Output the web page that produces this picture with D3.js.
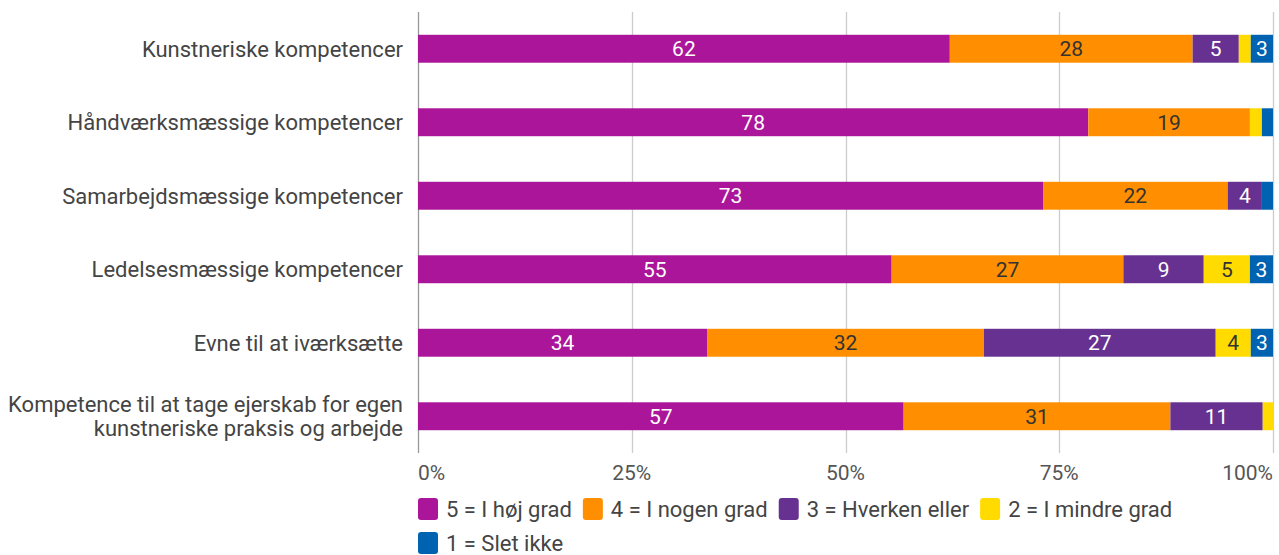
<!DOCTYPE html>
<html>
<head>
<meta charset="utf-8">
<script src="https://cdn.jsdelivr.net/npm/d3@7"></script>
<style>
  body { margin: 0; background: #fff; }
  svg { font-family: Roboto, "Noto Sans", sans-serif; }
</style>
</head>
<body>
<svg id="chart" width="1279" height="555"></svg>
<script>
// categories (top to bottom)
var categories = [
    "Kunstneriske kompetencer",
    "Håndværksmæssige kompetencer",
    "Samarbejdsmæssige kompetencer",
    "Ledelsesmæssige kompetencer",
    "Evne til at iværksætte",
    "Kompetence til at tage ejerskab for egen|kunstneriske praksis og arbejde"
];

// series, in stack order
var seriesNames = ["5 = I høj grad", "4 = I nogen grad", "3 = Hverken eller", "2 = I mindre grad", "1 = Slet ikke"];
var seriesColors = ["#aa1599", "#ff8f00", "#663191", "#ffdb00", "#0063b1"];
var labelColors = ["#fff", "#333", "#fff", "#333", "#fff"];

// percent per category, one array per series
var hoejGrad    = [62.2, 78.4, 73.1, 55.4, 33.8, 56.8];
var nogenGrad   = [28.4, 18.9, 21.6, 27.1, 32.4, 31.2];
var hverken     = [5.4,  0,    4.0,  9.4,  27.1, 10.8];
var mindreGrad  = [1.4,  1.4,  0,    5.4,  4.1,  1.3];
var sletIkke    = [2.6,  1.3,  1.3,  2.7,  2.6,  0];

var xTicks = [0, 25, 50, 75, 100];

var seriesValues = [hoejGrad, nogenGrad, hverken, mindreGrad, sletIkke];

var margin = { top: 12, right: 6, bottom: 102, left: 418 },
    width = 1279 - margin.left - margin.right,
    height = 555 - margin.top - margin.bottom;

var svg = d3.select("#chart");
var g = svg.append("g")
    .attr("transform", "translate(" + margin.left + "," + margin.top + ")");

var x = d3.scaleLinear().domain([0, 100]).range([0, width]);
var y = d3.scaleBand().domain(categories).range([0, height]).paddingInner(0.62).paddingOuter(0.31);

// grid lines
g.append("g").selectAll("line")
    .data(xTicks)
    .enter().append("line")
    .attr("x1", function (d) { return Math.round(x(d)) + 0.5; })
    .attr("x2", function (d) { return Math.round(x(d)) + 0.5; })
    .attr("y1", 0)
    .attr("y2", height)
    .attr("stroke", function (d) { return d === 0 ? "#999" : "#ccc"; })
    .attr("stroke-width", 1.3);

// stacked rows
var rows = categories.map(function (c, i) {
    var row = { cat: c };
    seriesNames.forEach(function (s, j) { row[s] = seriesValues[j][i]; });
    return row;
});
var stacked = d3.stack().keys(seriesNames)(rows);

var layers = g.append("g").selectAll("g")
    .data(stacked)
    .enter().append("g")
    .attr("fill", function (d, i) { return seriesColors[i]; });

layers.selectAll("rect")
    .data(function (d) { return d; })
    .enter().append("rect")
    .attr("x", function (d) { return x(d[0]); })
    .attr("y", function (d) { return y(d.data.cat); })
    .attr("width", function (d) { return Math.max(0, x(d[1]) - x(d[0])); })
    .attr("height", y.bandwidth());

// value labels
layers.each(function (layer, i) {
    d3.select(this).selectAll("text")
        .data(layer.filter(function (d) { return d[1] - d[0] >= 2; }))
        .enter().append("text")
        .attr("x", function (d) { return (x(d[0]) + x(d[1])) / 2; })
        .attr("y", function (d) { return y(d.data.cat) + y.bandwidth() / 2; })
        .attr("dy", "0.36em")
        .attr("text-anchor", "middle")
        .attr("fill", labelColors[i])
        .style("font-size", "21px")
        .text(function (d) { return Math.round(d[1] - d[0]); });
});

// category labels
var catLabels = g.append("g").selectAll("text")
    .data(categories)
    .enter().append("text")
    .attr("x", -15)
    .attr("y", function (d) { return y(d) + y.bandwidth() / 2; })
    .attr("text-anchor", "end")
    .attr("fill", "#444")
    .style("font-size", "22px");

catLabels.each(function (d) {
    var lines = d.split("|");
    var t = d3.select(this);
    lines.forEach(function (line, k) {
        t.append("tspan")
            .attr("x", -15)
            .attr("dy", k === 0 ? (0.36 - (lines.length - 1) * 0.55) + "em" : "1.1em")
            .text(line);
    });
});

// x tick labels
g.append("g").selectAll("text")
    .data(xTicks)
    .enter().append("text")
    .attr("x", function (d) { return x(d); })
    .attr("y", height + 27)
    .attr("text-anchor", function (d) { return d === 0 ? "start" : d === 100 ? "end" : "middle"; })
    .attr("fill", "#555")
    .style("font-size", "21px")
    .text(function (d) { return d + "%"; });

// legend
var legend = svg.append("g").attr("transform", "translate(" + margin.left + ",0)");
var lx = 0, ly = 509;
seriesNames.forEach(function (name, i) {
    var item = legend.append("g");
    item.append("rect")
        .attr("width", 20).attr("height", 22)
        .attr("y", -11).attr("rx", 3)
        .attr("fill", seriesColors[i]);
    var t = item.append("text")
        .attr("x", 28).attr("dy", "0.36em")
        .attr("fill", "#444")
        .style("font-size", "22px")
        .text(name);
    var w = 28 + t.node().getComputedTextLength();
    if (lx > 0 && lx + w > width) { lx = 0; ly += 34; }
    item.attr("transform", "translate(" + lx + "," + ly + ")");
    lx += w + 11;
});
</script>
</body>
</html>
